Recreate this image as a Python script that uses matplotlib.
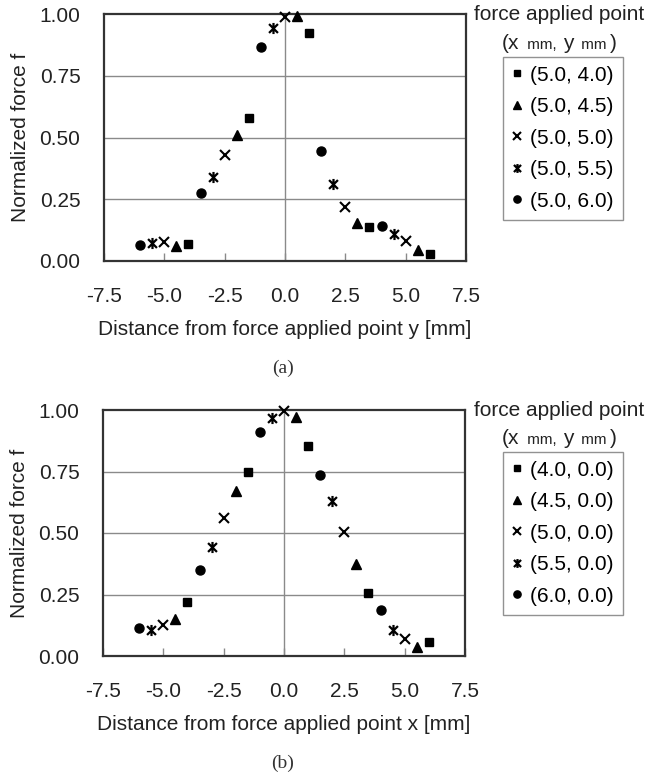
import matplotlib
matplotlib.use("Agg")
import matplotlib.pyplot as plt
from matplotlib.path import Path

plt.rcParams["font.family"] = ["Liberation Sans", "DejaVu Sans"]

# x positions shared by each marker series (mm)
pos_sq = [-4.0, -1.5, 1.0, 3.5, 6.0]
pos_tri = [-4.5, -2.0, 0.5, 3.0, 5.5]
pos_x = [-5.0, -2.5, 0.0, 2.5, 5.0]
pos_ast = [-5.5, -3.0, -0.5, 2.0, 4.5]
pos_cir = [-6.0, -3.5, -1.0, 1.5, 4.0]

# (a) force along y
f_sq_a = [0.068, 0.577, 0.924, 0.138, 0.030]
f_tri_a = [0.061, 0.509, 0.993, 0.155, 0.045]
f_x_a = [0.077, 0.428, 0.988, 0.220, 0.081]
f_ast_a = [0.074, 0.339, 0.942, 0.311, 0.108]
f_cir_a = [0.066, 0.274, 0.865, 0.446, 0.142]
labels_a = ["(5.0, 4.0)", "(5.0, 4.5)", "(5.0, 5.0)", "(5.0, 5.5)", "(5.0, 6.0)"]

# (b) force along x
f_sq_b = [0.218, 0.746, 0.853, 0.255, 0.056]
f_tri_b = [0.151, 0.672, 0.970, 0.373, 0.037]
f_x_b = [0.125, 0.559, 0.997, 0.505, 0.071]
f_ast_b = [0.107, 0.445, 0.966, 0.631, 0.107]
f_cir_b = [0.115, 0.349, 0.912, 0.735, 0.187]
labels_b = ["(4.0, 0.0)", "(4.5, 0.0)", "(5.0, 0.0)", "(5.5, 0.0)", "(6.0, 0.0)"]

xticks = [-7.5, -5.0, -2.5, 0.0, 2.5, 5.0, 7.5]
yticks = [0.0, 0.25, 0.5, 0.75, 1.0]

# x with a vertical bar, like the spreadsheet "star" marker
star = Path([(-1, -1), (1, 1), (-1, 1), (1, -1), (0, -1.25), (0, 1.25)],
            [Path.MOVETO, Path.LINETO, Path.MOVETO, Path.LINETO,
             Path.MOVETO, Path.LINETO])

FS = 15
W, H = 646, 778


def panel(fig, rect, series, labels, xlabel, tag, tag_y, leg_top):
    ax = fig.add_axes(rect)
    styles = [("s", 6, 1.0), ("^", 7.5, 1.0), ("x", 7, 1.5),
              (star, 8, 1.6), ("o", 6.5, 1.0)]
    handles = []
    for (xs, ys), (m, ms, mew), lab in zip(series, styles, labels):
        h, = ax.plot(xs, ys, ls="none", marker=m, ms=ms, mew=mew,
                     color="black", clip_on=False, zorder=5, label=lab)
        handles.append(h)
    ax.set_xlim(-7.5, 7.5)
    ax.set_ylim(0, 1)
    ax.set_xticks(xticks)
    ax.set_xticklabels([f"{t:.1f}" for t in xticks])
    ax.set_yticks(yticks)
    ax.set_yticklabels([f"{t:.2f}" for t in yticks])
    for y in yticks[1:-1]:
        ax.axhline(y, color="#8a8a8a", lw=1.0, zorder=1)
    ax.axvline(0, color="#8a8a8a", lw=1.0, zorder=1)
    ax.tick_params(axis="x", direction="in", length=6, width=1.0,
                   color="#8a8a8a", pad=19, labelsize=FS, labelcolor="#222222")
    ax.tick_params(axis="y", length=0, pad=17, labelsize=FS,
                   labelcolor="#222222")
    for s in ax.spines.values():
        s.set_color("#333333")
        s.set_linewidth(1.6)
    ax.set_xlabel(xlabel, fontsize=FS, labelpad=10, color="#222222")
    ax.set_ylabel("Normalized force f", fontsize=FS, labelpad=7,
                  color="#222222")
    fig.text(283 / W, 1 - tag_y / H, tag, ha="center", va="center",
             fontsize=14, family="Liberation Serif", color="#333333")

    # legend title, two lines
    fig.text(559 / W, 1 - (leg_top - 42) / H, "force applied point",
             ha="center", va="center", fontsize=FS, color="#222222")
    base = 1 - (leg_top - 8) / H
    parts = [("(x", FS), (" mm, ", 11), ("y", FS), (" mm", 11), (")", FS)]
    prev = fig.text(502 / W, base, parts[0][0], fontsize=parts[0][1],
                    va="baseline", color="#222222")
    for txt, sz in parts[1:]:
        prev = ax.annotate(txt, xy=(1, base),
                           xycoords=(prev, "figure fraction"),
                           xytext=(2.2, 0), textcoords="offset points",
                           fontsize=sz, va="baseline", ha="left",
                           color="#222222", annotation_clip=False)

    leg = fig.legend(handles=handles, loc="upper left",
                     bbox_to_anchor=(503 / W, 1 - leg_top / H),
                     borderaxespad=0, fontsize=FS, frameon=True,
                     fancybox=False, edgecolor="#777777", markerscale=0.8,
                     handlelength=0.5, handletextpad=0.4, borderpad=0.42,
                     labelspacing=0.6)
    leg.get_frame().set_linewidth(1.0)
    return ax


fig = plt.figure(figsize=(W / 100, H / 100), dpi=100)
panel(fig, [104 / W, 1 - 261 / H, 362 / W, 247 / H],
      [(pos_sq, f_sq_a), (pos_tri, f_tri_a), (pos_x, f_x_a),
       (pos_ast, f_ast_a), (pos_cir, f_cir_a)],
      labels_a, "Distance from force applied point y [mm]", "(a)", 368, 57)
panel(fig, [103 / W, 1 - 656 / H, 362 / W, 246 / H],
      [(pos_sq, f_sq_b), (pos_tri, f_tri_b), (pos_x, f_x_b),
       (pos_ast, f_ast_b), (pos_cir, f_cir_b)],
      labels_b, "Distance from force applied point x [mm]", "(b)", 763, 452)

fig.savefig("out.png", dpi=100)
